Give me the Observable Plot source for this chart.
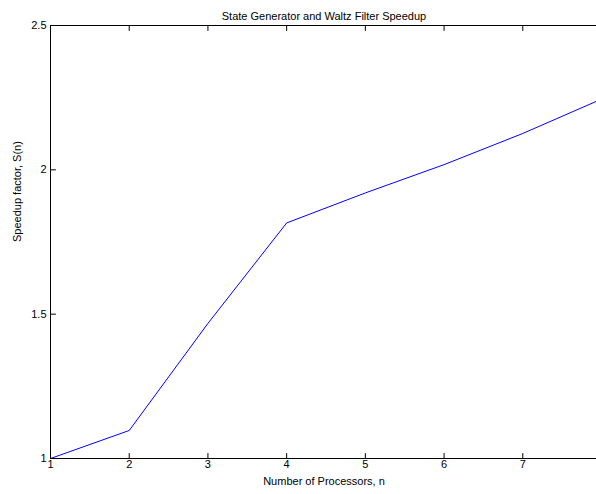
<!DOCTYPE html>
<html>
<head>
<meta charset="utf-8">
<script src="https://cdn.jsdelivr.net/npm/d3@7"></script>
<script src="https://cdn.jsdelivr.net/npm/@observablehq/plot@0.6"></script>
<style>
  html, body { margin: 0; padding: 0; background: white; overflow: hidden; }
  #chart { width: 596px; height: 494px; overflow: hidden; }
  #chart svg { display: block; overflow: hidden !important; }
</style>
</head>
<body>
<div id="chart"></div>
<script>
const processors = [1, 2, 3, 4, 5, 6, 7, 8];
const speedup = [1.0, 1.097, 1.468, 1.816, 1.920, 2.018, 2.126, 2.245];
const xTicks = [1, 2, 3, 4, 5, 6, 7];
const yTicks = [1, 1.5, 2, 2.5];
const titleText = "State Generator and Waltz Filter Speedup";
const xLabel = "Number of Processors, n";
const yLabel = "Speedup factor, S(n)";

const data = processors.map((n, i) => ({n, s: speedup[i]}));
const tickShape = {draw(context, l) { context.moveTo(0, 0); context.lineTo(0, -l); }};

const chart = Plot.plot({
  width: 596,
  height: 494,
  marginLeft: 50,
  marginTop: 25,
  marginBottom: 36,
  marginRight: -5,
  x: {domain: [1, 8]},
  y: {domain: [1, 2.5]},
  style: {fontFamily: "'Liberation Sans', Arial, Helvetica, sans-serif", fontSize: "11px", color: "black", background: "white"},
  marks: [
    Plot.line(data, {x: "n", y: "s", stroke: "#0000ff", strokeWidth: 1, clip: true}),
    Plot.ruleX([1], {stroke: "black", strokeWidth: 1}),
    Plot.ruleY([1, 2.5], {stroke: "black", strokeWidth: 1}),
    Plot.vector(xTicks, {x: d => d, y: 1, length: 5, rotate: 0, anchor: "start", shape: tickShape, stroke: "black", strokeWidth: 1}),
    Plot.vector(xTicks, {x: d => d, y: 2.5, length: 5, rotate: 180, anchor: "start", shape: tickShape, stroke: "black", strokeWidth: 1}),
    Plot.vector(yTicks, {x: 1, y: d => d, length: 5, rotate: 90, anchor: "start", shape: tickShape, stroke: "black", strokeWidth: 1}),
    Plot.axisX(xTicks, {tickSize: 0, tickPadding: 2, label: null, tickFormat: d => `${d}`, fontSize: 11}),
    Plot.axisY(yTicks, {tickSize: 0, tickPadding: 4, label: null, tickFormat: d => `${d}`, fontSize: 11}),
    Plot.text([titleText], {text: d => d, frameAnchor: "top", dy: -13, dx: -2, fontSize: 11}),
    Plot.text([xLabel], {text: d => d, frameAnchor: "bottom", dy: 26, dx: -2, fontSize: 11}),
    Plot.text([yLabel], {text: d => d, frameAnchor: "left", rotate: -90, dx: -33, fontSize: 11})
  ]
});
document.getElementById("chart").appendChild(chart);
</script>
</body>
</html>
